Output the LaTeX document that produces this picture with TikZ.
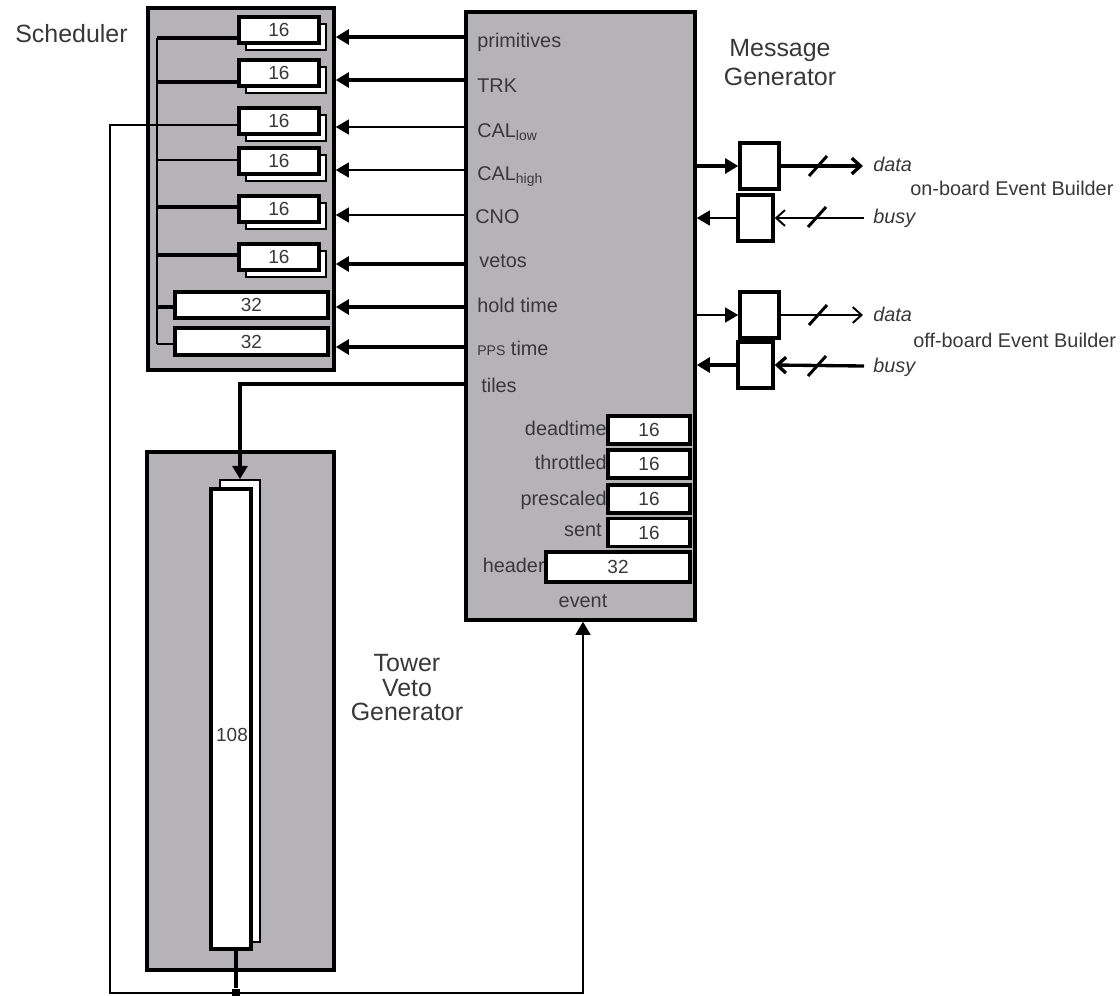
\documentclass[tikz,border=0pt]{standalone}
\usepackage{fontspec}
\setmainfont{Liberation Sans}
\usetikzlibrary{arrows.meta,calc}
\definecolor{boxgray}{HTML}{B5B3B6}
\definecolor{txt}{HTML}{383838}
\begin{document}
\begin{tikzpicture}[x=0.02cm,y=-0.02cm,
  panel/.style={draw, fill=boxgray, line width=2pt, inner sep=0},
  reg/.style={draw, fill=white, line width=1.9pt, inner sep=0, font=\fontsize{10.8}{12}\selectfont, text=txt},
  shadowreg/.style={draw, fill=white, line width=1.1pt, inner sep=0},
  lbl/.style={font=\fontsize{11.3}{13}\selectfont, text=txt, inner sep=0},
  ilbl/.style={font=\fontsize{11.3}{13}\selectfont\itshape, text=txt, inner sep=0},
  ttl/.style={font=\fontsize{14.2}{14.2}\selectfont, text=txt, inner sep=0},
  thickw/.style={line width=1.9pt},
  thinw/.style={line width=1.1pt},
  inarr/.style={-{Triangle[length=7.5pt,width=8.5pt]}},
  outarr/.style={-{Straight Barb[length=5pt,width=9pt]}},
  slash/.style={line width=1.7pt}
]
\useasboundingbox (0,0) rectangle (1120,995);

% ---------- panels ----------
\node[panel, minimum width=3.72cm, minimum height=7.24cm] (sch) at (241,189) {};
\node[panel, minimum width=4.58cm, minimum height=12.16cm] (mg) at (580.5,316) {};
\node[panel, minimum width=3.74cm, minimum height=10.36cm] (tvg) at (240.5,711) {};

% ---------- titles ----------
\node[ttl, anchor=base west] (tsch) at (15,42) {Scheduler};
\node[ttl, anchor=base] (tmg1) at (780,56) {Message};
\node[ttl, anchor=base] (tmg2) at (780,85) {Generator};
\node[ttl, anchor=base] (ttv1) at (407,671) {Tower};
\node[ttl, anchor=base] (ttv2) at (407,696) {Veto};
\node[ttl, anchor=base] (ttv3) at (407,720) {Generator};

% ---------- scheduler registers ----------
\foreach \n/\y in {1/30,2/73,3/121,4/161,5/209,6/257}{
  \node[shadowreg, minimum width=1.6cm, minimum height=0.52cm] (s\n) at (286,\y+7) {};
  \node[reg, minimum width=1.6cm, minimum height=0.52cm] (r\n) at (279,\y) {16};
}
\node[reg, minimum width=3.06cm, minimum height=0.52cm] (r7) at (251.5,305) {32};
\node[reg, minimum width=3.06cm, minimum height=0.54cm] (r8) at (251.5,341.5) {32};

% bus
\coordinate (b1) at (157,38);
\coordinate (b2) at (157,82);
\coordinate (b4) at (157,160);
\coordinate (b5) at (157,207);
\coordinate (b6) at (157,255);
\coordinate (b7) at (157,307);
\coordinate (b8) at (157,344);
\draw[line width=1.4pt] (b1) -- (b8);
\draw[thickw] (b1) -- (r1.west |- b1);
\draw[thickw] (b2) -- (r2.west |- b2);
\draw[thinw] (b4) -- (r4.west |- b4);
\draw[thickw] (b5) -- (r5.west |- b5);
\draw[thickw] (b6) -- (r6.west |- b6);
\draw[thickw] (b7) -- (r7.west |- b7);
\draw[thinw] (b8) -- (r8.west |- b8);

% ---------- message generator labels ----------
\node[lbl, anchor=base west] (lprim) at (477,47) {primitives};
\node[lbl, anchor=base west] (ltrk) at (477,92) {TRK};
\node[lbl, anchor=base west] (lcall) at (477,137) {CAL\textsubscript{low}};
\node[lbl, anchor=base west] (lcalh) at (477,180) {CAL\textsubscript{high}};
\node[lbl, anchor=base west] (lcno) at (475,223) {CNO};
\node[lbl, anchor=base west] (lveto) at (479,267) {vetos};
\node[lbl, anchor=base west] (lhold) at (477,312) {hold time};
\node[lbl, anchor=base west] (lpps) at (477,355) {{\fontsize{8}{9}\selectfont PPS} time};
\node[lbl, anchor=base west] (ltiles) at (481,392) {tiles};

% inputs to scheduler
\coordinate (p1) at (466,37);
\coordinate (p2) at (466,80);
\coordinate (p3) at (466,127);
\coordinate (p4) at (466,170);
\coordinate (p5) at (466,215);
\coordinate (p6) at (466,264);
\coordinate (p7) at (466,307);
\coordinate (p8) at (466,347);
\coordinate (p9) at (466,384);
\draw[thickw,inarr] (p1) -- (sch.east |- p1);
\draw[thickw,inarr] (p2) -- (sch.east |- p2);
\draw[thinw,inarr] (p3) -- (sch.east |- p3);
\draw[thinw,inarr] (p4) -- (sch.east |- p4);
\draw[thinw,inarr] (p5) -- (sch.east |- p5);
\draw[thickw,inarr] (p6) -- (sch.east |- p6);
\draw[thickw,inarr] (p7) -- (sch.east |- p7);
\draw[thickw,inarr] (p8) -- (sch.east |- p8);

% ---------- counters ----------
\node[reg, minimum width=1.64cm, minimum height=0.56cm] (c1) at (649,430) {16};
\node[reg, minimum width=1.64cm, minimum height=0.56cm] (c2) at (649,464) {16};
\node[reg, minimum width=1.64cm, minimum height=0.56cm] (c3) at (649,499) {16};
\node[reg, minimum width=1.64cm, minimum height=0.56cm] (c4) at (649,532.5) {16};
\node[reg, minimum width=2.88cm, minimum height=0.6cm] (c5) at (618,567) {32};
\node[lbl, anchor=base east] (ldead) at (607,435) {deadtime};
\node[lbl, anchor=base east] (lthr) at (607,469) {throttled};
\node[lbl, anchor=base east] (lpre) at (607,505) {prescaled};
\node[lbl, anchor=base east] (lsent) at (602,536) {sent};
\node[lbl, anchor=base east] (lhead) at (545,572) {header};
\node[lbl, anchor=base] (lev) at (583,607) {event};

% ---------- tower veto register ----------
\node[shadowreg, minimum width=0.8cm, minimum height=9.24cm] (tb) at (240,711) {};
\node[reg, line width=2pt, minimum width=0.8cm, minimum height=9.2cm] (tf) at (231,719) {};
\node[reg, draw=none, fill=none] (t108) at (232,735) {108};

% tiles
\draw[thickw,inarr] (p9) -| (tb.north);

% loop from CAL_low register to event
\coordinate (lA) at (110,125);
\coordinate (lB) at (110,993);
\coordinate (lC) at (583,993);
\draw[thinw,inarr] (r3.west |- lA) -- (lA) -- (lB) -- (lC) -- (mg.south -| lC);
\node[fill, inner sep=0, minimum size=4pt] (jn) at (236,992) {};
\draw[thickw] (tf.south -| jn) -- (jn);

% ---------- event builders ----------
\node[draw, fill=white, line width=2pt, minimum width=0.78cm, minimum height=0.92cm] (ob1) at (759.5,166) {};
\node[draw, fill=white, line width=2pt, minimum width=0.7cm, minimum height=0.92cm] (ob2) at (755.5,218) {};
\node[draw, fill=white, line width=2pt, minimum width=0.78cm, minimum height=0.92cm] (of1) at (759.5,315) {};
\node[draw, fill=white, line width=2pt, minimum width=0.7cm, minimum height=0.92cm] (of2) at (755.5,365) {};

\coordinate (obD) at (863,166);
\coordinate (obB) at (864,218);
\coordinate (ofD) at (863,315);
\coordinate (ofB) at (864,366);

\draw[thickw,inarr] (mg.east |- ob1) -- (ob1.west);
\draw[thickw,outarr] (ob1.east) -- (obD);
\draw[thinw,outarr] (obB) -- (ob2.east);
\draw[thinw,inarr] (ob2.west) -- (mg.east |- ob2);

\draw[thinw,inarr] (mg.east |- of1) -- (of1.west);
\draw[thinw,outarr] (of1.east) -- (ofD);
\draw[thickw,outarr] (ofB) -- (of2.east);
\draw[thickw,inarr] (of2.west) -- (mg.east |- of2);

\coordinate (sl1) at (818,166);
\coordinate (sl2) at (817,217);
\coordinate (sl3) at (818,315);
\coordinate (sl4) at (817,366);
\foreach \s in {sl1,sl2,sl3,sl4}{
  \draw[slash] ([shift={(-9,10)}]\s) -- ([shift={(9,-10)}]\s);
}

\node[ilbl, anchor=base west] (ldata1) at (873,171) {data};
\node[ilbl, anchor=base west] (lbusy1) at (873,223) {busy};
\node[ilbl, anchor=base west] (ldata2) at (873,321) {data};
\node[ilbl, anchor=base west] (lbusy2) at (873,372) {busy};
\node[lbl, anchor=base west] (lob) at (910,195) {on-board Event Builder};
\node[lbl, anchor=base west] (lof) at (913,347) {off-board Event Builder};
\end{tikzpicture}
\end{document}
